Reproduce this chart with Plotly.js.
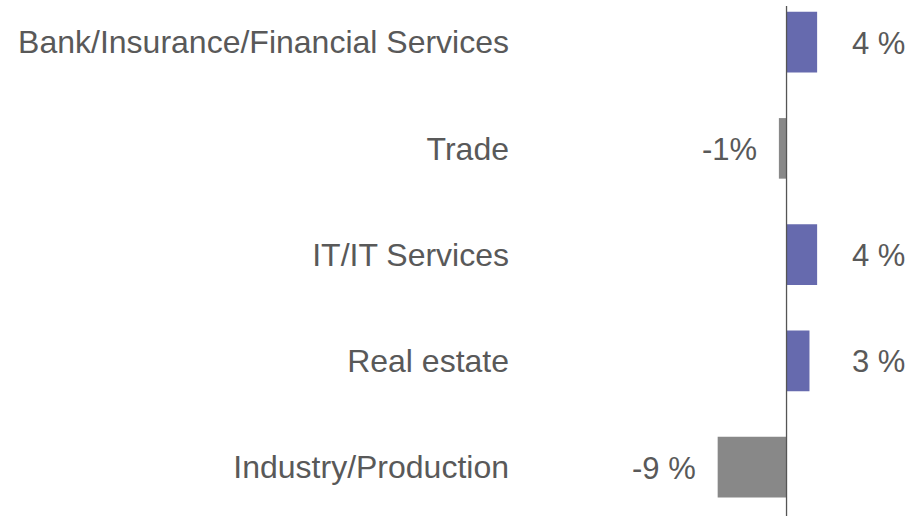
<!DOCTYPE html>
<html>
<head>
<meta charset="utf-8">
<script src="https://cdn.plot.ly/plotly-3.0.1.min.js"></script>
<style>html,body{margin:0;padding:0;background:#fff;}#chart{width:911px;height:516px;}</style>
</head>
<body>
<div id="chart"></div>
<script>
const categories = ["Bank/Insurance/Financial Services", "Trade", "IT/IT Services", "Real estate", "Industry/Production"];
const values = [4, -1, 4, 3, -9];
const valueLabels = ["4 %", "-1%", "4 %", "3 %", "-9 %"];

const POS = "#666aae", NEG = "#888888", TEXT = "#595959";
const FONT = "Liberation Sans, Arial, Helvetica, sans-serif";
const FS_CAT = 32, FS_VAL = 31;

const trace = {
  type: "bar",
  orientation: "h",
  y: categories,
  x: values,
  marker: { color: values.map(v => v >= 0 ? POS : NEG), line: { width: 0 } },
  hoverinfo: "none"
};

const annotations = values.map((v, i) => v >= 0 ? {
  x: 0, y: categories[i], xref: "x", yref: "y",
  text: valueLabels[i], showarrow: false, xanchor: "left", xshift: 63, yshift: -1,
  font: { family: FONT, size: FS_VAL, color: TEXT }
} : {
  x: v, y: categories[i], xref: "x", yref: "y",
  text: valueLabels[i], showarrow: false, xanchor: "right", xshift: -20, yshift: -1,
  font: { family: FONT, size: FS_VAL, color: TEXT }
});

const layout = {
  width: 911, height: 516,
  margin: { l: 518, r: 0, t: 6, b: 0, pad: 0 },
  paper_bgcolor: "#fff", plot_bgcolor: "#fff",
  showlegend: false,
  bargap: 0.43,
  xaxis: { range: [-35.1, 16.27], showgrid: false, zeroline: false, showticklabels: false, ticks: "", showline: false, fixedrange: true },
  yaxis: { type: "category", range: [4.46, -0.34], showgrid: false, zeroline: false, showline: false, ticks: "",
           ticklabelstandoff: 8, tickfont: { family: FONT, size: FS_CAT, color: TEXT }, automargin: false, fixedrange: true },
  shapes: [{ type: "line", xref: "x", yref: "paper", x0: 0, x1: 0, y0: 0, y1: 1, line: { color: "#555555", width: 1.3 } }],
  annotations: annotations
};

Plotly.newPlot("chart", [trace], layout, { staticPlot: true, displayModeBar: false });
</script>
</body>
</html>
